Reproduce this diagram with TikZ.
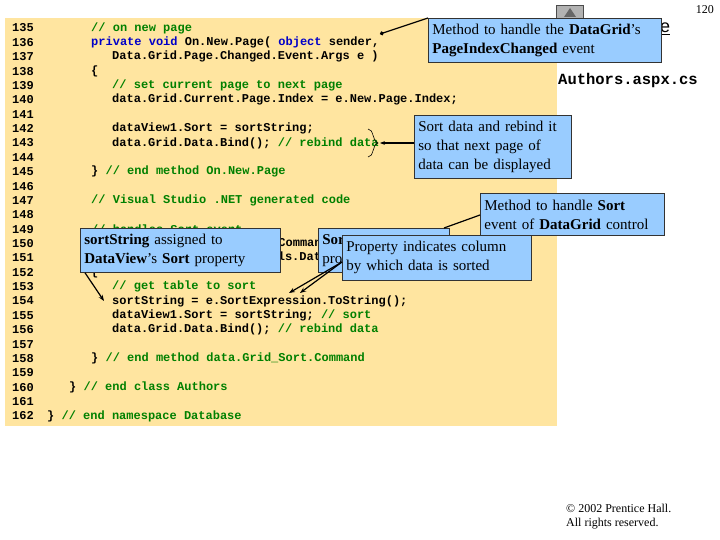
\documentclass[tikz,border=0pt]{standalone}
\usepackage{fontspec}
\setmainfont{Liberation Serif}
\newfontfamily\cmono{Liberation Mono}
\newfontfamily\csans{Liberation Sans}
\usetikzlibrary{arrows.meta}
\definecolor{codebg}{RGB}{255,229,160}
\definecolor{callbg}{RGB}{153,204,255}
\definecolor{cmt}{RGB}{0,128,0}
\definecolor{kw}{RGB}{0,0,200}
\begin{document}
\begin{tikzpicture}[x=1pt,y=-1pt,
 code/.style={anchor=west,inner sep=0pt,font=\cmono\bfseries\fontsize{12}{14}\selectfont},
 num/.style={code},
 call/.style={draw=black!80,fill=callbg,line width=0.8pt,anchor=north west,inner sep=0pt,align=left,font=\fontsize{15}{19}\selectfont},
 lnk/.style={line width=1.2pt}]
\useasboundingbox (0,0) rectangle (720,540);
\fill[white] (0,0) rectangle (720,540);
\fill[codebg] (5,18) rectangle (557,426);
\foreach \n [count=\i from 0] in {135,...,162}
  \node[num] at (12,{28+\i*14.37}) {\n};
\def\L#1{{28+(#1-135)*14.37}}
\node[code,text=cmt] (l135) at (91,\L{135}) {// on new page};
\node[code] (l136) at (91,\L{136}) {\textcolor{kw}{private void} On.New.Page( \textcolor{kw}{object} sender,};
\node[code] at (112,\L{137}) {Data.Grid.Page.Changed.Event.Args e )};
\node[code] at (91,\L{138}) {\{};
\node[code,text=cmt] at (112,\L{139}) {// set current page to next page};
\node[code] at (112,\L{140}) {data.Grid.Current.Page.Index = e.New.Page.Index;};
\node[code] (l142) at (112,\L{142}) {dataView1.Sort = sortString;};
\node[code] (l143) at (112,\L{143}) {data.Grid.Data.Bind(); \textcolor{cmt}{// rebind data}};
\node[code] at (91,\L{145}) {\} \textcolor{cmt}{// end method On.New.Page}};
\node[code,text=cmt] at (91,\L{147}) {// Visual Studio .NET generated code};
\node[code,text=cmt] at (91,\L{149}) {// handles Sort event};
\node[code] at (91,\L{150}) {\textcolor{kw}{private void} dataGrid\_SortCommand( \textcolor{kw}{object} sender,};
\node[code] at (112,\L{151}) {System.Web.UI.WebControls.DataGridSortCommandEventArgs e )};
\node[code] at (91,\L{152}) {\{};
\node[code,text=cmt] at (112,\L{153}) {// get table to sort};
\node[code] (l154) at (112,\L{154}) {sortString = e.SortExpression.ToString();};
\node[code] at (112,\L{155}) {dataView1.Sort = sortString; \textcolor{cmt}{// sort}};
\node[code] at (112,\L{156}) {data.Grid.Data.Bind(); \textcolor{cmt}{// rebind data}};
\node[code] at (91,\L{158}) {\} \textcolor{cmt}{// end method data.Grid\_Sort.Command}};
\node[code] at (69,\L{160}) {\} \textcolor{cmt}{// end class Authors}};
\node[code] at (47,\L{162}) {\} \textcolor{cmt}{// end namespace Database}};
% header items
\node[draw=black!70,fill=black!30,minimum width=27pt,minimum height=16pt,inner sep=0pt,anchor=north west] (btn) at (556,5) {};
\fill[black!60] (564,17) -- (570,8) -- (576,17) -- cycle;
\node[anchor=north east,inner sep=0pt,font=\fontsize{12}{14}\selectfont] (pg) at (714,5) {120};
\node[anchor=west,inner sep=0pt,font=\csans\fontsize{18}{20}\selectfont] (ttl) at (660,29) {\underline{e}};
\node[anchor=west,inner sep=0pt,font=\cmono\bfseries\fontsize{15.5}{18}\selectfont] (file) at (558,80) {Authors.aspx.cs};
\node[anchor=north west,inner sep=0pt,align=left,font=\fontsize{12}{14}\selectfont] (copy) at (566,504) {\textcopyright{} 2002 Prentice Hall.\\All rights reserved.};
% callouts
\node[call,minimum width=229pt,minimum height=44pt,text width=225pt,inner xsep=4pt] (c1) at (428,18) {Method to handle the \textbf{DataGrid}'s\\\textbf{PageIndexChanged} event};
\draw[lnk,-{Circle[length=4pt]}] (c1.north west) -- (380,34);
\node[call,minimum width=153pt,minimum height=63pt,text width=149pt,inner xsep=4pt] (c2) at (414,115) {Sort data and rebind it\\so that next page of\\data can be displayed};
\draw[line width=0.6pt] (368,129) .. controls (374,129) and (372,141) .. (378,143) .. controls (372,145) and (374,157) .. (368,157);
\coordinate (br) at (380,143);
\draw[lnk,-{Stealth[length=5pt]}] (c2.west |- br) -- (br);
\node[call,minimum width=180pt,minimum height=42pt,text width=176pt,inner xsep=4pt] (c3) at (480,193) {Method to handle \textbf{Sort}\\event of \textbf{DataGrid} control};
\node[call,minimum width=127pt,minimum height=44pt,text width=123pt,inner xsep=4pt] (c4) at (318,228) {\textbf{Sort} event\\property};
\draw[lnk] (c3.west |- 0,215) -- (444,228);
\node[call,minimum width=185pt,minimum height=45pt,text width=181pt,inner xsep=4pt] (c5) at (342,235) {Property indicates column\\by which data is sorted};
\node[call,minimum width=196pt,minimum height=44pt,text width=192pt,inner xsep=4pt] (c6) at (80,228) {\textbf{sortString} assigned to\\\textbf{DataView}'s \textbf{Sort} property};
\draw[lnk,-{Stealth[length=6pt]}] (c6.south west) ++(5,0) -- (104,301);
\coordinate (t1) at (289,293);
\coordinate (t2) at (300,293);
\draw[lnk,-{Stealth[length=6pt]}] (342,262) -- (t1);
\draw[lnk,-{Stealth[length=6pt]}] (342,262) -- (t2);
\end{tikzpicture}
\end{document}
